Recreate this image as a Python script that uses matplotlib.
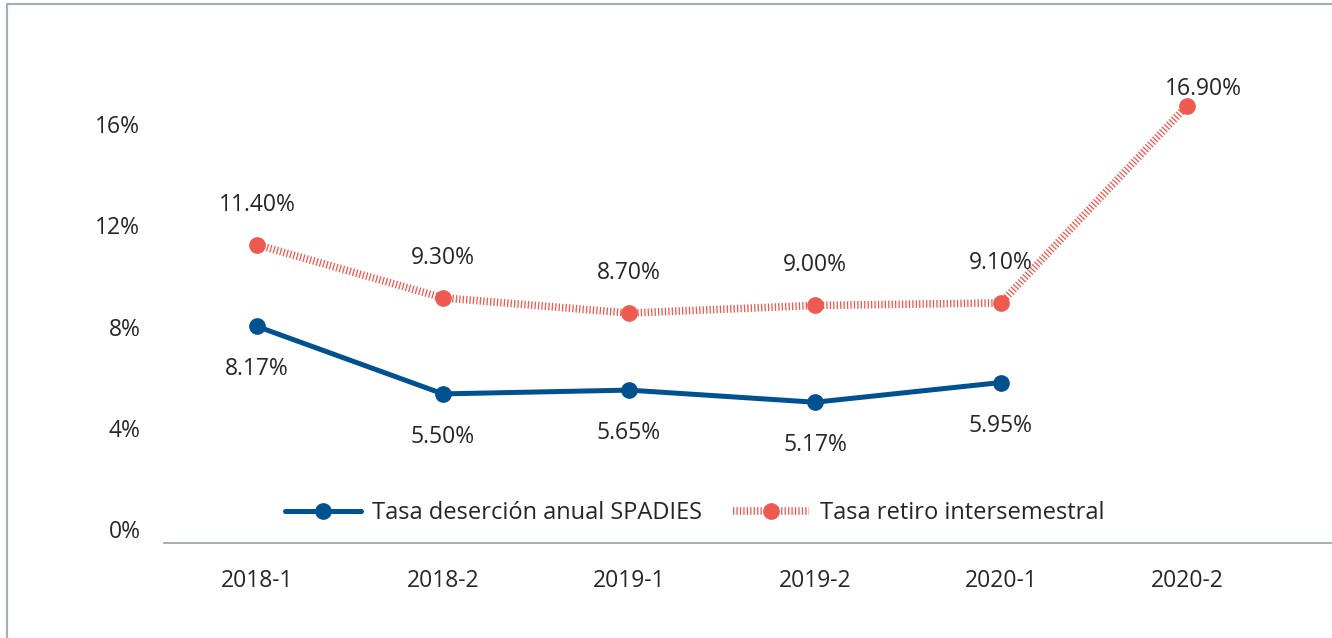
import matplotlib.pyplot as plt
from matplotlib.patches import Rectangle
from matplotlib.transforms import ScaledTranslation

plt.rcParams['font.family'] = ['Open Sans', 'DejaVu Sans']

periodos = ['2018-1', '2018-2', '2019-1', '2019-2', '2020-1', '2020-2']
desercion = [8.17, 5.50, 5.65, 5.17, 5.95]
retiro = [11.40, 9.30, 8.70, 9.00, 9.10, 16.90]
yticks = [0, 4, 8, 12, 16]

azul = '#00518F'
rojo = '#EF5A50'
texto = '#262626'

fig = plt.figure(figsize=(13.32, 6.38), dpi=100)
ax = fig.add_axes([164 / 1332, 95 / 638, 1 - 164 / 1332, (543 - 78) / 638])

x_des = list(range(len(desercion)))
x_ret = list(range(len(retiro)))

ax.plot(x_des, desercion, color=azul, lw=3.6, marker='o', ms=11,
        label='Tasa deserción anual SPADIES', solid_capstyle='round')
ax.plot(x_ret, retiro, color=rojo, lw=5.5, linestyle=(0, (0.17, 0.28)),
        marker='o', ms=11, label='Tasa retiro intersemestral')

# etiquetas de datos
for i, v in enumerate(retiro):
    dx, dy = (12, 12) if i == len(retiro) - 1 else (0, 29)
    ax.annotate(f'{v:.2f}%', (i, v), xytext=(dx, dy), textcoords='offset points',
                ha='center', va='center', fontsize=16.5, color=texto)
for i, v in enumerate(desercion):
    ax.annotate(f'{v:.2f}%', (i, v), xytext=(0, -31), textcoords='offset points',
                ha='center', va='center', fontsize=16.5, color=texto)

ax.set_xlim(-0.5, 5.78)
ax.set_ylim(-0.4, 18)
ax.set_xticks(x_ret)
ax.set_xticklabels(periodos)
ax.set_yticks(yticks)
ax.set_yticklabels([f'{t}%' for t in yticks])
ax.tick_params(axis='both', length=0, labelsize=16.5, labelcolor=texto)
ax.tick_params(axis='x', pad=19)
ax.tick_params(axis='y', pad=17)
# las etiquetas del eje y van un poco más arriba que los puntos
for lab in ax.get_yticklabels():
    lab.set_transform(lab.get_transform() + ScaledTranslation(0, 3 / 72, fig.dpi_scale_trans))

for s in ['top', 'right', 'left']:
    ax.spines[s].set_visible(False)
ax.spines['bottom'].set_color('#8EA2B3')
ax.spines['bottom'].set_linewidth(1.2)

leg = ax.legend(loc='center', bbox_to_anchor=((695 - 164) / 1168, (543 - 513) / 465), ncol=2,
                frameon=False, fontsize=17, handlelength=3.2, columnspacing=1.3,
                handletextpad=0.5)
for t in leg.get_texts():
    t.set_color(texto)

# marco de la figura
fig.patches.append(Rectangle((7 / 1332, -0.1), 1.1, 1.1 - 4 / 638, transform=fig.transFigure,
                             fill=False, edgecolor='#A3B0BC', lw=1.6))

fig.savefig('out.png', dpi=100)
